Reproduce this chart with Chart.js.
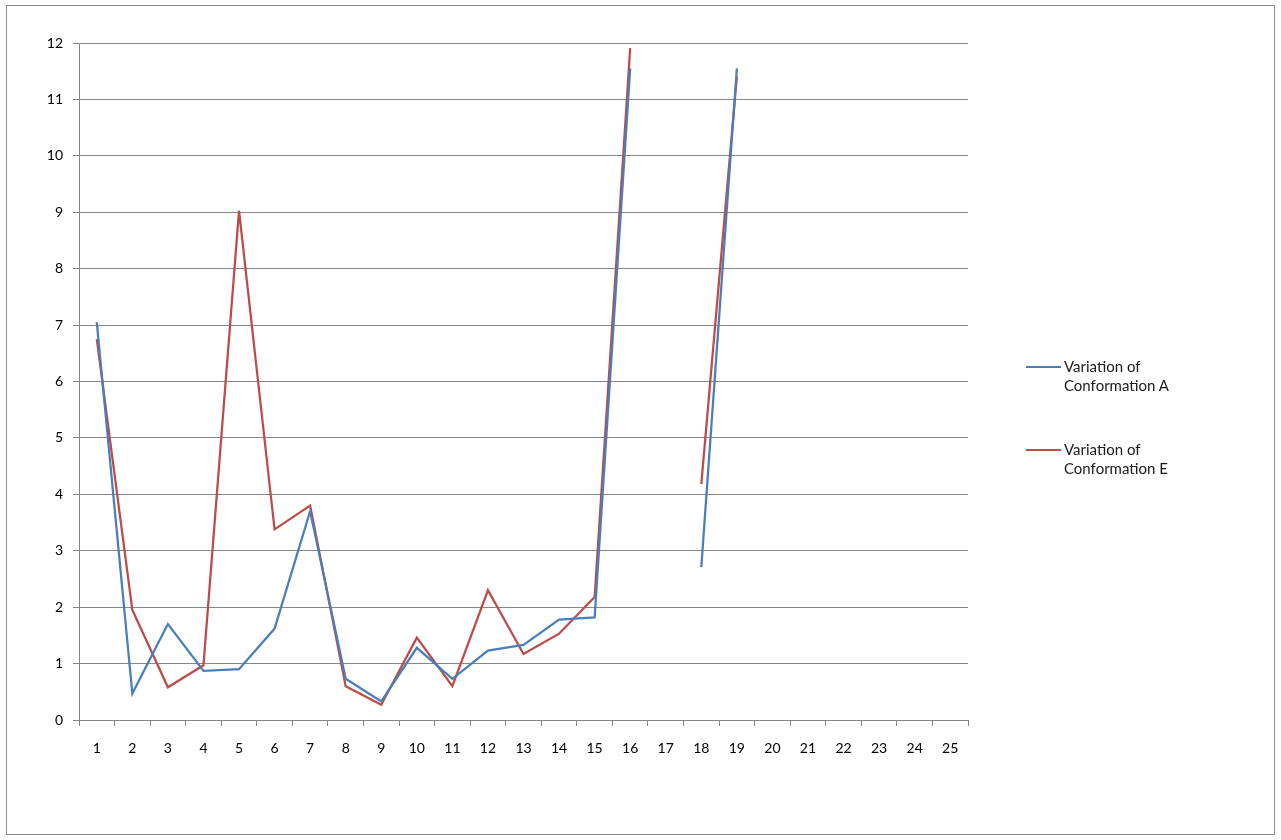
<!DOCTYPE html>
<html>
<head>
<meta charset="utf-8">
<script src="https://cdn.jsdelivr.net/npm/chart.js@4"></script>
<style>
  body { margin: 0; background: #fff; font-family: Lato, sans-serif; }
  #wrap { position: relative; width: 1281px; height: 840px; }
  #frame { position: absolute; left: 6px; top: 5px; width: 1267px; height: 828px; border: 1px solid #8c8c8c; pointer-events: none; }
  .leg { position: absolute; left: 1026px; font-size: 15px; line-height: 19px; color: #1a1a1a; }
  .leg i { position: absolute; left: 0; width: 35px; height: 2px; }
  .leg span { position: absolute; left: 38px; white-space: nowrap; }
</style>
</head>
<body>
<div id="wrap">
  <canvas id="lineChart" width="1281" height="840"></canvas>
  <div id="frame"></div>
  <div class="leg" style="top:357px"><i style="top:9px;background:#4a7ebb"></i><span>Variation of<br>Conformation A</span></div>
  <div class="leg" style="top:440px"><i style="top:9px;background:#be4b48"></i><span>Variation of<br>Conformation E</span></div>
</div>
<script>
const labels = ["1","2","3","4","5","6","7","8","9","10","11","12","13","14","15","16","17","18","19","20","21","22","23","24","25"];
const conformationA = [7.05, 0.47, 1.70, 0.87, 0.90, 1.62, 3.70, 0.73, 0.33, 1.28, 0.73, 1.23, 1.33, 1.78, 1.82, 11.55, null, 2.71, 11.55];
const conformationE = [6.75, 1.95, 0.58, 0.97, 9.03, 3.38, 3.80, 0.60, 0.27, 1.46, 0.60, 2.30, 1.17, 1.53, 2.18, 11.91, null, 4.18, 11.41];
const yTicks = [0, 1, 2, 3, 4, 5, 6, 7, 8, 9, 10, 11, 12];

const ctx = document.querySelector("#lineChart").getContext("2d");

const data = {
  labels,
  datasets: [
    {
      label: "Variation of Conformation A",
      data: conformationA,
      borderColor: "#4a7ebb",
      borderWidth: 2.25,
      pointRadius: 0,
      tension: 0,
      spanGaps: false,
    },
    {
      label: "Variation of Conformation E",
      data: conformationE,
      borderColor: "#be4b48",
      borderWidth: 2.25,
      pointRadius: 0,
      tension: 0,
      spanGaps: false,
    },
  ],
};

const config = {
  type: "line",
  data: data,
  options: {
    responsive: false,
    animation: false,
    layout: { padding: { top: 43, right: 313, bottom: 0, left: 0 } },
    scales: {
      x: {
        offset: true,
        afterFit: (scale) => { scale.height = 120; },
        grid: { offset: true, drawOnChartArea: false, tickLength: 6, color: "#868686" },
        border: { color: "#868686" },
        ticks: { color: "#000", padding: 14, maxRotation: 0, autoSkip: false, font: { family: "Lato", size: 14 } },
      },
      y: {
        min: 0,
        max: 12,
        afterFit: (scale) => { scale.width = 79; },
        afterBuildTicks: (scale) => { scale.ticks = yTicks.map((v) => ({ value: v })); },
        grid: { color: "#868686", tickLength: 6 },
        border: { color: "#868686" },
        ticks: { color: "#000", padding: 10, font: { family: "Lato", size: 14 } },
      },
    },
    plugins: {
      legend: { display: false },
      tooltip: { enabled: false },
    },
  },
};

const myChart = new Chart(ctx, config);
</script>
</body>
</html>
